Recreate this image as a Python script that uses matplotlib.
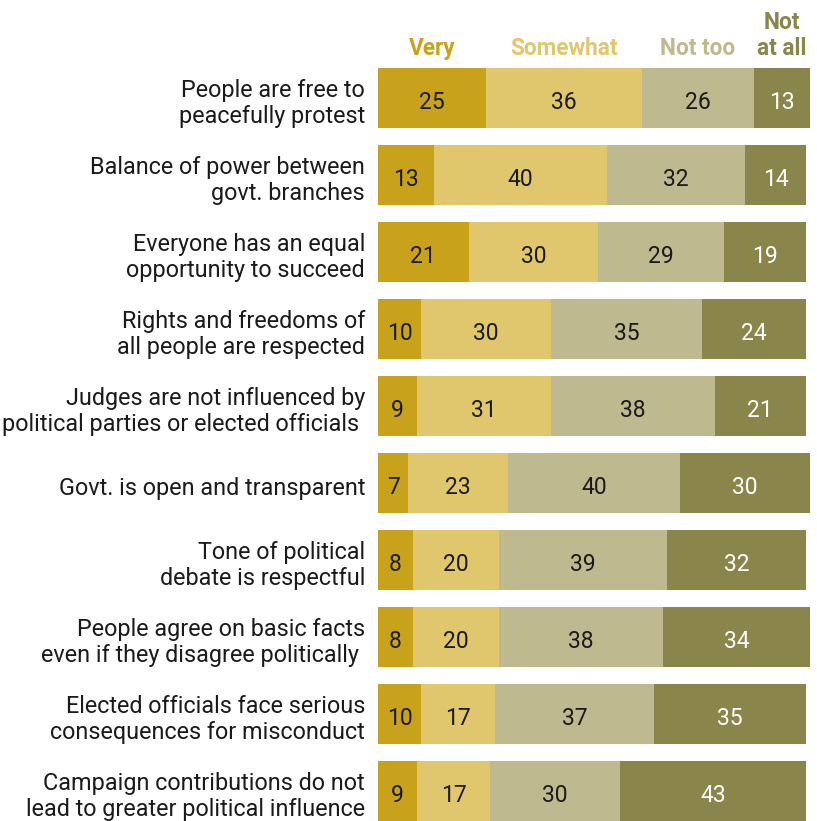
import numpy as np
import matplotlib.pyplot as plt

plt.rcParams['font.family'] = ['Roboto', 'DejaVu Sans']

# Survey items, top to bottom
items = [
    "People are free to\npeacefully protest",
    "Balance of power between\ngovt. branches",
    "Everyone has an equal\nopportunity to succeed",
    "Rights and freedoms of\nall people are respected",
    "Judges are not influenced by\npolitical parties or elected officials ",
    "Govt. is open and transparent",
    "Tone of political\ndebate is respectful",
    "People agree on basic facts\neven if they disagree politically ",
    "Elected officials face serious\nconsequences for misconduct",
    "Campaign contributions do not\nlead to greater political influence",
]
very = [25, 13, 21, 10, 9, 7, 8, 8, 10, 9]
somewhat = [36, 40, 30, 30, 31, 23, 20, 20, 17, 17]
not_too = [26, 32, 29, 35, 38, 40, 39, 38, 37, 30]
not_at_all = [13, 14, 19, 24, 21, 30, 32, 34, 35, 43]

series = [very, somewhat, not_too, not_at_all]
headers = ["Very", "Somewhat", "Not too", "Not\nat all"]
colors = ["#C9A21C", "#E0C76E", "#BFB98F", "#8A854A"]
text_colors = ["#1a1a1a", "#1a1a1a", "#1a1a1a", "white"]

W, H = 817, 821
fig = plt.figure(figsize=(W / 100, H / 100), dpi=100)
ax = fig.add_axes([378 / W, 0, 432 / W, (822 - 69) / H])

bar_h = 0.78
y = np.arange(len(items))
left = np.zeros(len(items))
for vals, col, tcol in zip(series, colors, text_colors):
    vals = np.array(vals, dtype=float)
    ax.barh(y, vals, left=left, height=bar_h, color=col, edgecolor="none")
    for yi, l, v in zip(y, left, vals):
        ax.text(l + v / 2, yi + 0.06, f"{int(v)}", ha="center", va="center",
                fontsize=16.5, color=tcol)
    left += vals

ax.set_xlim(0, 100)
ax.set_ylim(len(items) - 1 + bar_h / 2, -bar_h / 2)
ax.axis("off")

# Row labels to the left of the bars
for yi, lab in zip(y, items):
    ax.text(-3.0, yi + 0.07, lab, ha="right", va="center", fontsize=16.8,
            color="#1a1a1a", linespacing=1.19)

# Column headers above the first bar, centred on its segments
starts = np.cumsum([0] + [s[0] for s in series[:-1]])
for hdr, col, s0, v0 in zip(headers, colors, starts, [s[0] for s in series]):
    ax.text(s0 + v0 / 2, -0.5, hdr, ha="center", va="bottom", fontsize=16.3,
            fontweight="bold", color=col, linespacing=1.15)

fig.savefig("out.png", dpi=100)
